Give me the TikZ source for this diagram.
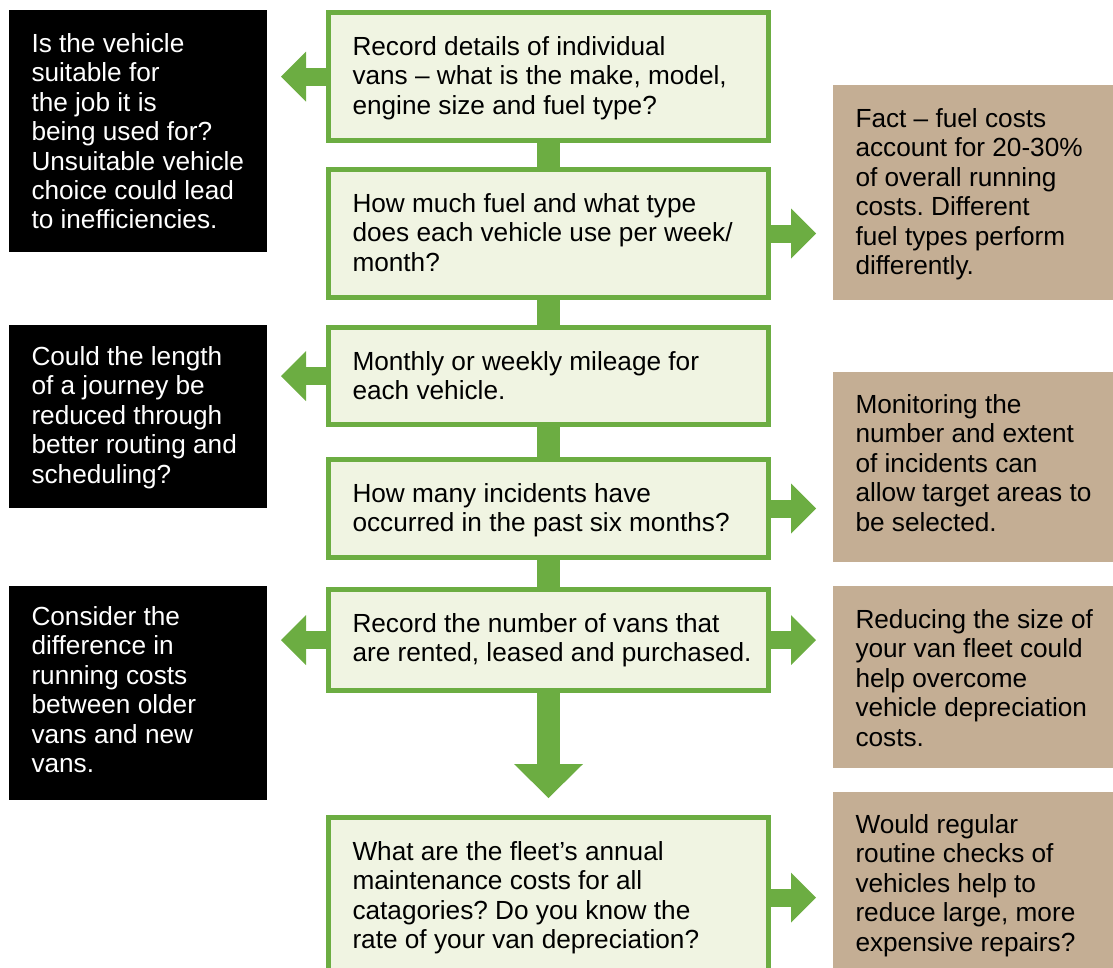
\documentclass[tikz,border=0pt]{standalone}
\usepackage{fontspec}
\setmainfont{Liberation Sans}
\frenchspacing
\usetikzlibrary{arrows.meta,calc}
\definecolor{grn}{RGB}{108,173,66}
\definecolor{gfill}{RGB}{240,244,226}
\definecolor{tanc}{RGB}{196,174,148}
\tikzset{
  gbox/.style={draw=grn, line width=5pt, fill=gfill, anchor=north west, minimum width=440pt, inner sep=0pt},
  bbox/.style={fill=black, draw=none, anchor=north west, inner sep=0pt, outer sep=0pt, minimum width=258pt},
  tbox/.style={fill=tanc, draw=none, anchor=north west, inner sep=0pt, outer sep=0pt, minimum width=300pt},
  txt/.style={anchor=north west, inner sep=0pt, outer sep=0pt, align=left, font=\fontsize{26.2}{29.4}\selectfont\frenchspacing},
  wtxt/.style={txt, text=white},
  sidearrow/.style={draw=grn, line width=18pt, -{Triangle[length=25pt,width=50pt,line width=0pt]}},
  link/.style={draw=grn, line width=23pt},
  downarrow/.style={draw=grn, line width=23pt, -{Triangle[length=34pt,width=69pt,line width=0pt]}}
}
\begin{document}
\begin{tikzpicture}[x=1pt,y=-1pt]
\useasboundingbox (0,0) rectangle (1113,967);
\clip (0,0) rectangle (1113,967);
% black boxes
\node[bbox, minimum height=242pt] (bA) at (9,10) {};
\node[bbox, minimum height=183pt] (bB) at (9,325) {};
\node[bbox, minimum height=214pt] (bC) at (9,586) {};
% tan boxes
\node[tbox, minimum height=215pt] (tD) at (833,85) {};
\node[tbox, minimum height=190pt] (tE) at (833,372) {};
\node[tbox, minimum height=182pt] (tF) at (833,586) {};
\node[tbox, minimum height=190pt] (tG) at (833,792) {};
% green boxes
\node[gbox, minimum height=128pt] (g1) at (326,10) {};
\node[gbox, minimum height=128pt] (g2) at (326,167) {};
\node[gbox, minimum height=97pt] (g3) at (326,325) {};
\node[gbox, minimum height=98pt] (g4) at (326,457) {};
\node[gbox, minimum height=101pt] (g5) at (326,587) {};
\node[gbox, minimum height=160pt] (g6) at (326,815) {};
% links
\draw[link] (g1.south) -- (g2.north);
\draw[link] (g2.south) -- (g3.north);
\draw[link] (g3.south) -- (g4.north);
\draw[link] (g4.south) -- (g5.north);
\coordinate (d5) at ($(g5.south)+(0,105)$);
\draw[downarrow] (g5.south) -- (d5);
% side arrows
\coordinate (l1) at ($(g1.west)+(-45,0)$);
\coordinate (l3) at ($(g3.west)+(-45,0)$);
\coordinate (l5) at ($(g5.west)+(-45,0)$);
\coordinate (r2) at ($(g2.east)+(45,0)$);
\coordinate (r4) at ($(g4.east)+(45,0)$);
\coordinate (r5) at ($(g5.east)+(45,0)$);
\coordinate (r6) at ($(g6.east)+(45,0)$);
\draw[sidearrow] (g1.west) -- (l1);
\draw[sidearrow] (g3.west) -- (l3);
\draw[sidearrow] (g5.west) -- (l5);
\draw[sidearrow] (g2.east) -- (r2);
\draw[sidearrow] (g4.east) -- (r4);
\draw[sidearrow] (g5.east) -- (r5);
\draw[sidearrow] (g6.east) -- (r6);
% texts
\node[wtxt] (xA) at ($(bA.north west)+(22.5,23.5)$) {Is the vehicle\\suitable for\\the job it is\\being used for?\\Unsuitable vehicle\\choice could lead\\to inefficiencies.};
\node[wtxt] (xB) at ($(bB.north west)+(22.5,21.5)$) {Could the length\\of a journey be\\reduced through\\better routing and\\scheduling?};
\node[wtxt] (xC) at ($(bC.north west)+(22.5,20.5)$) {Consider the\\difference in\\running costs\\between older\\vans and new\\vans.};
\node[txt] (x1) at ($(g1.north west)+(26.5,26.5)$) {Record details of individual\\vans – what is the make, model,\\engine size and fuel type?};
\node[txt] (x2) at ($(g2.north west)+(26.5,26.5)$) {How much fuel and what type\\does each vehicle use per week/\\month?};
\node[txt] (x3) at ($(g3.north west)+(26.5,26.5)$) {Monthly or weekly mileage for\\each vehicle.};
\node[txt] (x4) at ($(g4.north west)+(26.5,26.5)$) {How many incidents have\\occurred in the past six months?};
\node[txt] (x5) at ($(g5.north west)+(26.5,26.5)$) {Record the number of vans that\\are rented, leased and purchased.};
\node[txt] (x6) at ($(g6.north west)+(26.5,26.5)$) {What are the fleet’s annual\\maintenance costs for all\\catagories? Do you know the\\rate of your van depreciation?};
\node[txt] (xD) at ($(tD.north west)+(22.5,23.5)$) {Fact – fuel costs\\account for 20-30\%\\of overall running\\costs. Different\\fuel types perform\\differently.};
\node[txt] (xE) at ($(tE.north west)+(22.5,22.5)$) {Monitoring the\\number and extent\\of incidents can\\allow target areas to\\be selected.};
\node[txt] (xF) at ($(tF.north west)+(22.5,23.5)$) {Reducing the size of\\your van fleet could\\help overcome\\vehicle depreciation\\costs.};
\node[txt] (xG) at ($(tG.north west)+(22.5,22.5)$) {Would regular\\routine checks of\\vehicles help to\\reduce large, more\\expensive repairs?};
\end{tikzpicture}
\end{document}
